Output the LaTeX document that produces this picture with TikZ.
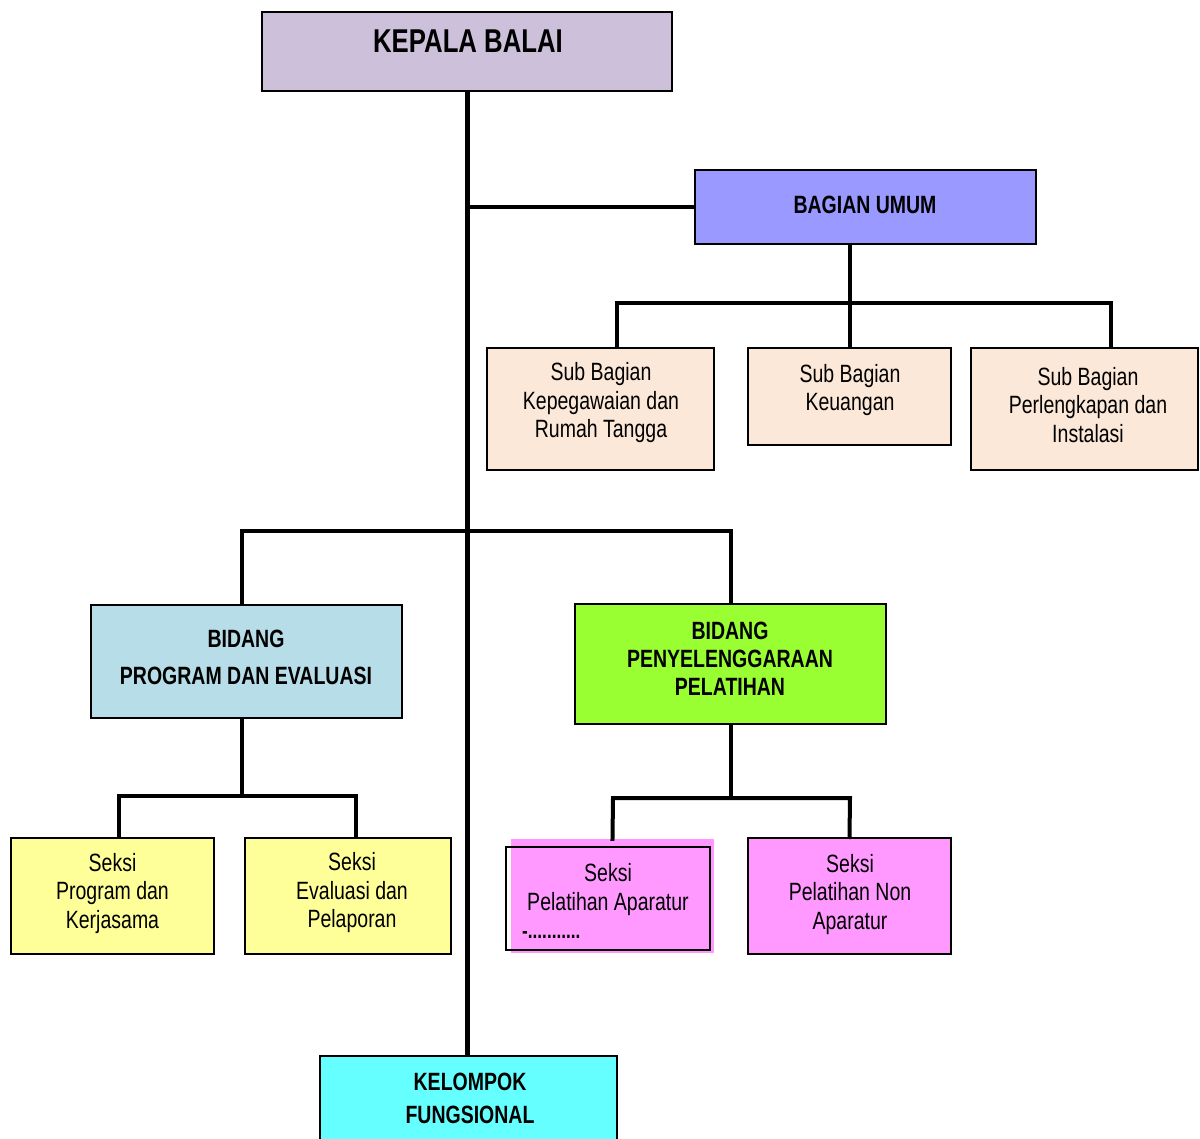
\documentclass[tikz,border=0pt]{standalone}
\usepackage{fontspec}
\setmainfont{Liberation Sans}[FakeStretch=0.78]
\definecolor{cLav}{HTML}{CCC0DA}
\definecolor{cBlue}{HTML}{9999FF}
\definecolor{cPeach}{HTML}{FCE8D8}
\definecolor{cLBlue}{HTML}{B7DEE8}
\definecolor{cGreen}{HTML}{99FF33}
\definecolor{cYellow}{HTML}{FFFF99}
\definecolor{cPink}{HTML}{FF99FF}
\definecolor{cCyan}{HTML}{66FFFF}
\begin{document}
\begin{tikzpicture}[x=1pt,y=-1pt,
  box/.style={draw=black, line width=2pt, inner sep=0pt, rectangle},
  lbl/.style={align=center, inner sep=0pt, font=\fontsize{25}{28.5}\selectfont},
  hdr/.style={align=center, inner sep=0pt, font=\fontsize{25}{28}\selectfont\bfseries},
  conn/.style={line width=4pt, line cap=rect},
  mainconn/.style={line width=5pt}]
\useasboundingbox (0,0) rectangle (1200,1139);
% boxes
\node[box, fill=cLav, minimum width=410pt, minimum height=79pt] (kb) at (467,51.5) {};
\node[box, fill=cBlue, minimum width=341pt, minimum height=74pt] (bu) at (865.5,207) {};
\node[box, fill=cPeach, minimum width=227pt, minimum height=122pt] (s1) at (600.5,409) {};
\node[box, fill=cPeach, minimum width=203pt, minimum height=97pt] (s2) at (849.5,396.5) {};
\node[box, fill=cPeach, minimum width=227pt, minimum height=122pt] (s3) at (1084.5,409) {};
\node[box, fill=cLBlue, minimum width=311pt, minimum height=113pt] (bp) at (246.5,661.5) {};
\node[box, fill=cGreen, minimum width=311pt, minimum height=120pt] (bg) at (730.5,664) {};
\node[box, fill=cYellow, minimum width=203pt, minimum height=116pt] (y1) at (112.5,896) {};
\node[box, fill=cYellow, minimum width=206pt, minimum height=116pt] (y2) at (348,896) {};
\node[fill=cPink, inner sep=0pt, minimum width=203pt, minimum height=114pt] (pa) at (612.5,896) {};
\node[box, minimum width=204pt, minimum height=103pt] (paf) at (608,898.5) {};
\node[box, fill=cPink, minimum width=203pt, minimum height=116pt] (pn) at (849.5,896) {};
\node[box, fill=cCyan, minimum width=297pt, minimum height=100pt, anchor=north] (kf) at (468.5,1055) {};
% texts
\node[hdr, font=\fontsize{33}{36}\selectfont\bfseries] (tkb) at (468,41) {KEPALA BALAI};
\node[hdr] (tbu) at (865,205) {BAGIAN UMUM};
\node[lbl] (ts1) at (601,403) {Sub Bagian\\Kepegawaian dan\\Rumah Tangga};
\node[lbl] (ts2) at (850,390) {Sub Bagian\\Keuangan};
\node[lbl] (ts3) at (1088,405) {Sub Bagian\\Perlengkapan dan\\Instalasi};
\node[hdr, font=\fontsize{25}{37}\selectfont\bfseries] (tbp) at (246,657.5) {BIDANG\\PROGRAM DAN EVALUASI};
\node[hdr] (tbg) at (730,659) {BIDANG\\PENYELENGGARAAN\\PELATIHAN};
\node[lbl] (ty1) at (112.5,893.5) {Seksi\\Program dan\\Kerjasama};
\node[lbl] (ty2) at (352,893) {Seksi\\Evaluasi dan\\Pelaporan};
\node[lbl] (tpa) at (608,889.5) {Seksi\\Pelatihan Aparatur};
\node[lbl, anchor=west, font=\fontsize{22}{24}\selectfont\bfseries] (tdots) at (522,935) {-\kern0pt...........};
\node[lbl] (tpn) at (850,894.5) {Seksi\\Pelatihan Non\\Aparatur};
\node[hdr, font=\fontsize{25}{33}\selectfont\bfseries] (tkf) at (470,1098.5) {KELOMPOK\\FUNGSIONAL};
% connectors
\draw[mainconn] (kb.south) -- (kb.south |- kf.north);
\draw[conn] (kb.south |- bu.west) -- (bu.west);
\draw[conn] (s2.north) -- (s2.north |- bu.south);
\draw[conn] (s1.north -| 617,0) -- (617,303) -- (1111,303) -- (s3.north -| 1111,0);
\draw[conn] (bp.north -| 242,0) -- (242,531) -- (731,531) -- (bg.north -| 731,0);
\draw[conn] (bp.south -| 242,0) -- (242,796);
\draw[conn] (y1.north -| 119,0) -- (119,796) -- (356,796) -- (y2.north -| 356,0);
\draw[conn] (bg.south) -- (bg.south |- 0,798);
\draw[conn] (pa.north) -- (613,798) -- (850,798) -- (pn.north);
\end{tikzpicture}
\end{document}
